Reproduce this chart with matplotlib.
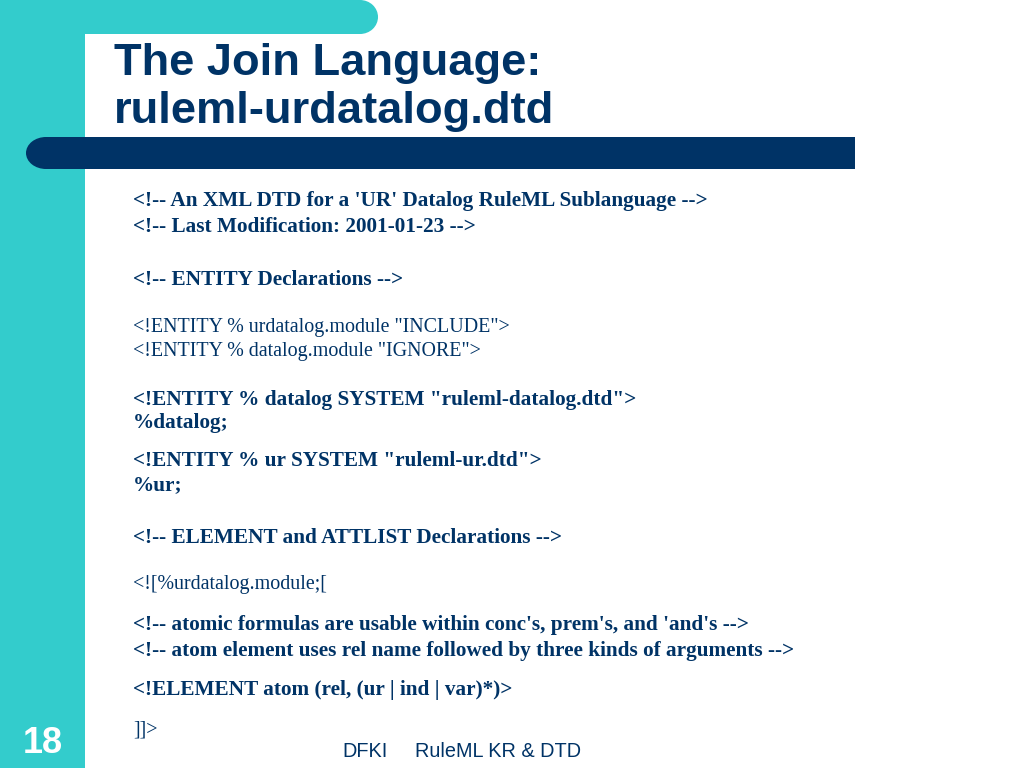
import matplotlib
matplotlib.use("Agg")
import matplotlib.pyplot as plt
from matplotlib.patches import Rectangle, Ellipse

NAVY = "#003366"
CYAN = "#33CCCC"

title_lines = ["The Join Language:", "ruleml-urdatalog.dtd"]

body_lines = [
    "<!-- An XML DTD for a 'UR' Datalog RuleML Sublanguage -->",
    "<!-- Last Modification: 2001-01-23 -->",
    "<!-- ENTITY Declarations -->",
    '<!ENTITY % urdatalog.module "INCLUDE">',
    '<!ENTITY % datalog.module "IGNORE">',
    '<!ENTITY % datalog SYSTEM "ruleml-datalog.dtd">',
    "%datalog;",
    '<!ENTITY % ur SYSTEM "ruleml-ur.dtd">',
    "%ur;",
    "<!-- ELEMENT and ATTLIST Declarations -->",
    "<![%urdatalog.module;[",
    "<!-- atomic formulas are usable within conc's, prem's, and 'and's -->",
    "<!-- atom element uses rel name followed by three kinds of arguments -->",
    "<!ELEMENT atom (rel, (ur | ind | var)*)>",
    "]]>",
]
body_bold = [True, True, True, False, False, True, True, True, True,
             True, False, True, True, True, False]

slide_number = "18"
footer_left = "DFKI"
footer_right = "RuleML KR & DTD"

# layout (pixels, baselines)
title_base = [75, 123]
body_base = [206, 232, 285, 332, 356, 405, 428, 466, 490, 543, 589, 630, 656, 695, 734]

fig = plt.figure(figsize=(10.24, 7.68), dpi=100)
ax = fig.add_axes([0, 0, 1, 1])
ax.set_xlim(0, 1024)
ax.set_ylim(768, 0)
ax.axis("off")

# cyan frame: left strip + top band with rounded end
ax.add_patch(Rectangle((0, 0), 85, 768, color=CYAN, lw=0))
ax.add_patch(Rectangle((0, 0), 360, 34, color=CYAN, lw=0))
ax.add_patch(Ellipse((360, 17), 36, 34, color=CYAN, lw=0))

# navy bar under title
ax.add_patch(Rectangle((46, 137), 809, 32, color=NAVY, lw=0))
ax.add_patch(Ellipse((46, 153), 40, 32, color=NAVY, lw=0))

for line, y in zip(title_lines, title_base):
    ax.text(114, y, line, fontsize=32.6, fontweight="bold", color=NAVY,
            family="Liberation Sans", va="baseline", ha="left")

for line, y, b in zip(body_lines, body_base, body_bold):
    ax.text(133, y, line, fontsize=15.3 if b else 14.4,
            fontweight="bold" if b else "normal",
            color=NAVY, family="Liberation Serif", va="baseline", ha="left")

ax.text(43, 753, slide_number, fontsize=26, fontweight="bold", color="white",
        family="Liberation Sans", va="baseline", ha="center")
ax.text(342, 757, footer_left, fontsize=14.3, color=NAVY,
        family="Liberation Sans", va="baseline", ha="left")
ax.text(415, 757, footer_right, fontsize=14.3, color=NAVY,
        family="Liberation Sans", va="baseline", ha="left")

fig.savefig("out.png", dpi=100)
